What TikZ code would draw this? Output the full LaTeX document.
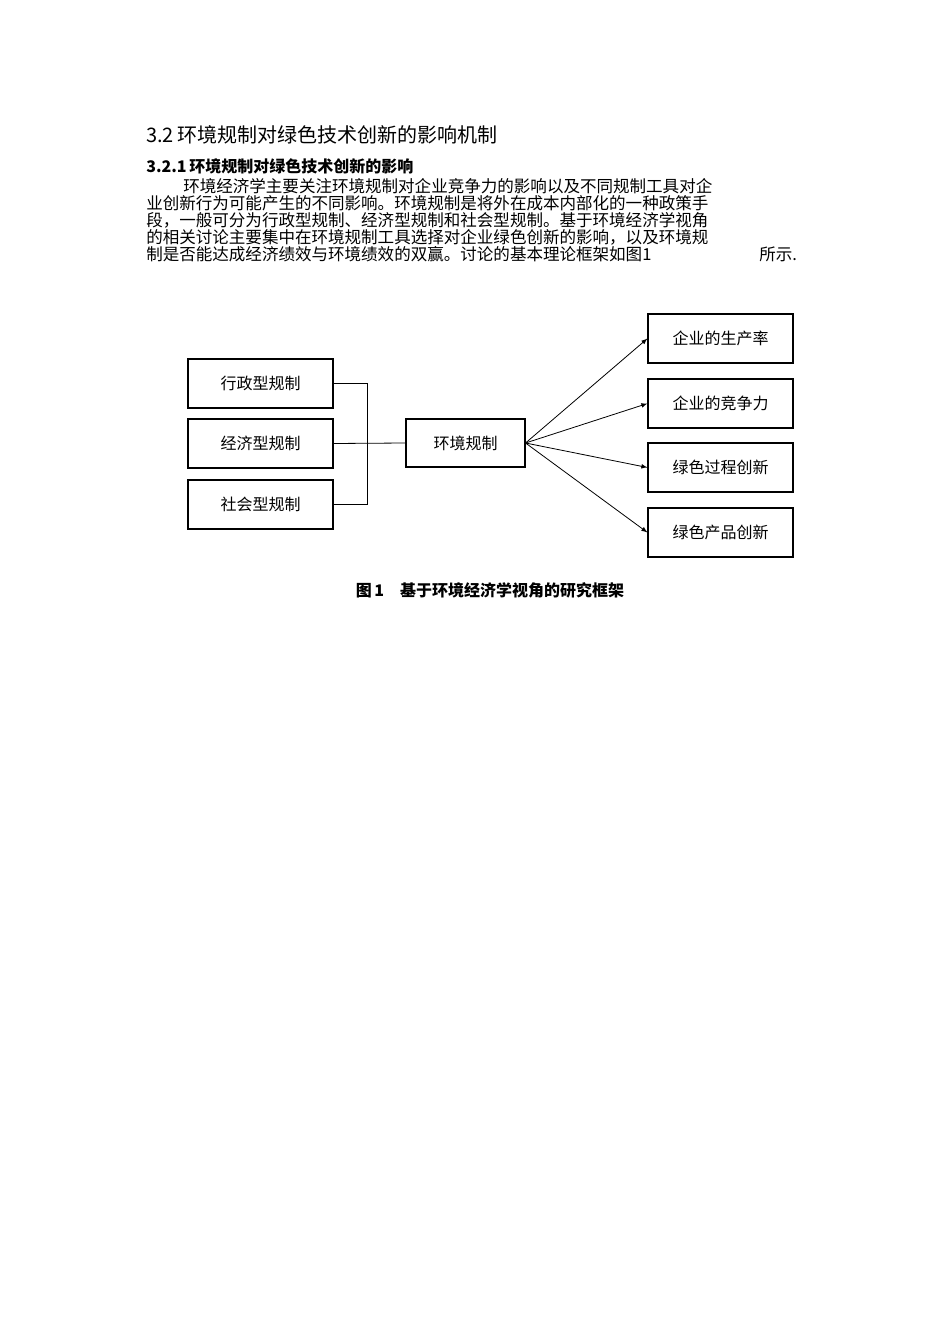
\documentclass[tikz,border=0pt]{standalone}
\usepackage{fontspec}
\newfontfamily\cjk{Noto Sans CJK SC}
\begin{document}
\begin{tikzpicture}[x=0.75pt,y=-0.75pt,
  box/.style={draw,line width=0.8pt,minimum width=108.75pt,minimum height=36.75pt,inner sep=0pt,font=\cjk\fontsize{12}{14}\selectfont},
  para/.style={anchor=west,inner sep=0pt,font=\cjk\fontsize{12.4}{14}\selectfont},
  ln/.style={line width=0.6pt},
  arr/.style={line width=0.6pt,-latex}]
\useasboundingbox (0,0) rectangle (950,1344);
\node[anchor=west,inner sep=0pt,font=\cjk\fontsize{15}{17}\selectfont] (h1) at (146,135) {3.2\,环境规制对绿色技术创新的影响机制};
\node[anchor=west,inner sep=0pt,font=\cjk\bfseries\fontsize{12}{14}\selectfont] (h2) at (146,166) {3.2.1\,环境规制对绿色技术创新的影响};
\node[para] (p1) at (183,186) {\makebox[460pt][s]{环境经济学主要关注环境规制对企业竞争力的影响以及不同规制工具对企}};
\node[para] (p2) at (146,203) {\makebox[488pt][s]{业创新行为可能产生的不同影响。环境规制是将外在成本内部化的一种政策手}};
\node[para] (p3) at (146,220) {\makebox[488pt][s]{段，一般可分为行政型规制、经济型规制和社会型规制。基于环境经济学视角}};
\node[para] (p4) at (146,237) {\makebox[488pt][s]{的相关讨论主要集中在环境规制工具选择对企业绿色创新的影响，以及环境规}};
\node[para] (p5) at (146,254) {\makebox[488pt][s]{制是否能达成经济绩效与环境绩效的双赢。讨论的基本理论框架如图1 所示.}};

\node[box] (a1) at (260.5,383.5) {行政型规制};
\node[box] (a2) at (260.5,443.5) {经济型规制};
\node[box] (a3) at (260.5,504.5) {社会型规制};
\node[box,minimum width=89.25pt,minimum height=36pt] (c) at (465.5,443) {环境规制};
\node[box] (b1) at (720.5,338.5) {企业的生产率};
\node[box] (b2) at (720.5,403.5) {企业的竞争力};
\node[box] (b3) at (720.5,467.5) {绿色过程创新};
\node[box] (b4) at (720.5,532.5) {绿色产品创新};
\coordinate (j1) at (367,383.5);
\coordinate (j3) at (367,504.5);
\coordinate (j2) at (367,443);
\draw[ln] (a1.east) -- (j1) -- (j3) -- (a3.east);
\draw[ln] (a2.east) -- (c.west);
\foreach \b in {b1,b2,b3,b4} \draw[arr] (c.east) -- (\b.west);
\node[font=\cjk\bfseries\fontsize{12}{14}\selectfont] (cap) at (490,590) {图\,1\quad 基于环境经济学视角的研究框架};
\end{tikzpicture}
\end{document}
